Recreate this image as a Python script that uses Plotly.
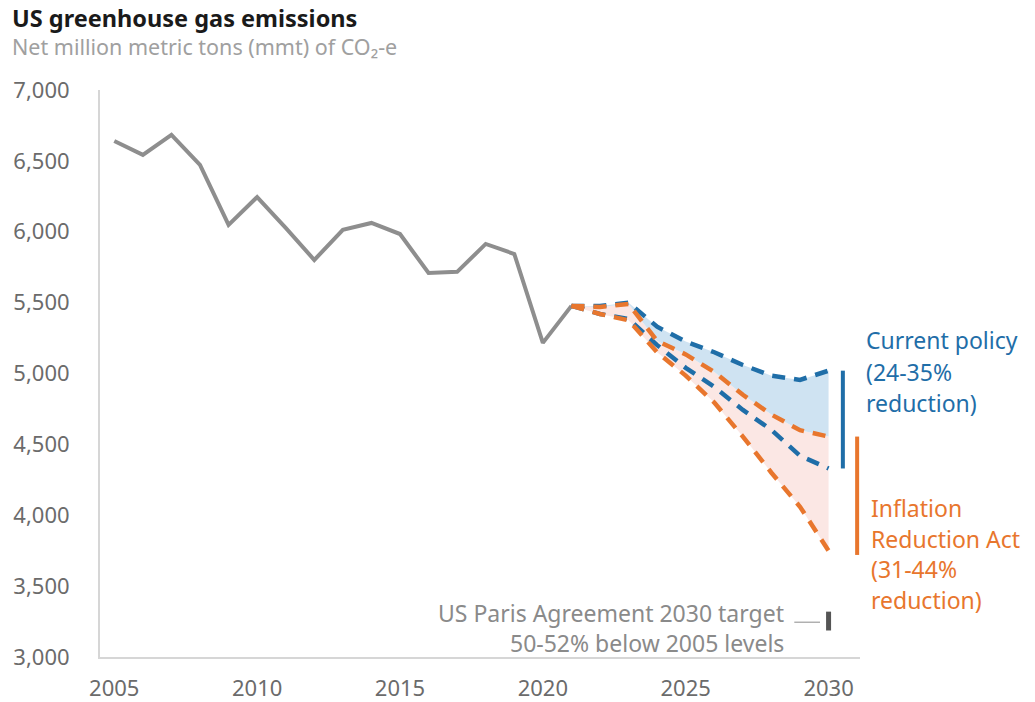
import plotly.graph_objects as go

# Historical emissions (mmt CO2-e)
hist_years = list(range(2005, 2022))
hist_values = [6640, 6542, 6683, 6471, 6048, 6245, 6027, 5801, 6013, 6062,
               5984, 5709, 5717, 5914, 5843, 5216, 5477]

# Projections
proj_years = list(range(2021, 2031))
cp_high = [5477, 5477, 5500, 5330, 5225, 5150, 5060, 4985, 4955, 5020]
cp_low = [5477, 5420, 5385, 5200, 5040, 4905, 4743, 4602, 4420, 4330]
ira_high = [5477, 5470, 5490, 5230, 5135, 5010, 4850, 4710, 4600, 4555]
ira_low = [5477, 5420, 5375, 5150, 4985, 4795, 4555, 4300, 4060, 3750]

# Ranges at 2030
cp_range = [5020, 4330]
ira_range = [4555, 3720]
paris_range = [3320, 3187]

y_ticks = [3000, 3500, 4000, 4500, 5000, 5500, 6000, 6500, 7000]
x_ticks = [2005, 2010, 2015, 2020, 2025, 2030]

BLUE = "#1f6ea8"
ORANGE = "#e8762d"
GRAY = "#8e8e8e"
FONT = "Noto Sans"

# plot-area geometry in pixels (for paper-referenced text)
L, R, T, B = 100, 860, 90, 657
W, H = 1035, 702


def px(xp):
    return (xp - L) / (R - L)


def py(yp):
    return (B - yp) / (B - T)


fig = go.Figure()

# fills
fig.add_trace(go.Scatter(x=proj_years, y=ira_high, mode="lines",
                         line=dict(width=0), hoverinfo="skip", showlegend=False))
fig.add_trace(go.Scatter(x=proj_years, y=ira_low, mode="lines", fill="tonexty",
                         fillcolor="#fbe7e4", line=dict(width=0),
                         hoverinfo="skip", showlegend=False))
fig.add_trace(go.Scatter(x=proj_years, y=ira_high, mode="lines",
                         line=dict(width=0), hoverinfo="skip", showlegend=False))
fig.add_trace(go.Scatter(x=proj_years, y=cp_high, mode="lines", fill="tonexty",
                         fillcolor="#cfe3f2", line=dict(width=0),
                         hoverinfo="skip", showlegend=False))

# historical
fig.add_trace(go.Scatter(x=hist_years, y=hist_values, mode="lines",
                         line=dict(color=GRAY, width=4), showlegend=False))

# dashed projections
for series, color in [(cp_high, BLUE), (cp_low, BLUE), (ira_high, ORANGE), (ira_low, ORANGE)]:
    fig.add_trace(go.Scatter(x=proj_years, y=series, mode="lines",
                             line=dict(color=color, width=4.5, dash="13px,9px"),
                             showlegend=False))

# range bars
fig.add_shape(type="line", x0=2030.5, x1=2030.5, y0=cp_range[0], y1=cp_range[1],
              line=dict(color=BLUE, width=4))
fig.add_shape(type="line", x0=2031.0, x1=2031.0, y0=ira_range[0], y1=ira_range[1],
              line=dict(color=ORANGE, width=4))
fig.add_shape(type="line", x0=2030.0, x1=2030.0, y0=paris_range[0], y1=paris_range[1],
              line=dict(color="#555555", width=5))
fig.add_shape(type="line", x0=2028.8, x1=2029.7, y0=3245, y1=3245,
              line=dict(color="#b0b0b0", width=1.5))


def add_lines(lines, x_px, y_px_first, step_px, color, xanchor, size=23):
    for i, t in enumerate(lines):
        fig.add_annotation(x=px(x_px), y=py(y_px_first + i * step_px), xref="paper", yref="paper",
                           text=t, showarrow=False, xanchor=xanchor, yanchor="middle",
                           font=dict(family=FONT, size=size, color=color))


add_lines(["Current policy", "(24-35%", "reduction)"], 864, 340, 31.5, BLUE, "left")
add_lines(["Inflation", "Reduction Act", "(31-44%", "reduction)"], 869, 508, 30.7, ORANGE, "left")
add_lines(["US Paris Agreement 2030 target", "50-52% below 2005 levels"], 786, 613, 30,
          "#8a8a8a", "right", size=23)

# title and subtitle
fig.add_annotation(x=px(10), y=py(18), xref="paper", yref="paper",
                   text="<b>US greenhouse gas emissions</b>",
                   showarrow=False, xanchor="left", yanchor="middle",
                   font=dict(family=FONT, size=23.5, color="#1a1a1a"))
fig.add_annotation(x=px(10), y=py(47), xref="paper", yref="paper",
                   text="Net million metric tons (mmt) of CO₂-e",
                   showarrow=False, xanchor="left", yanchor="middle",
                   font=dict(family=FONT, size=21.5, color="#a0a0a0"))

fig.update_layout(
    width=W, height=H,
    margin=dict(l=L, r=W - R, t=T, b=H - B),
    paper_bgcolor="white", plot_bgcolor="white",
    font=dict(family=FONT, size=21, color="#6b6b6b"),
    xaxis=dict(range=[2004.5, 2031.1], tickvals=x_ticks, ticktext=[str(v) for v in x_ticks],
               showgrid=False, zeroline=False, showline=True, linecolor="#d6d6d6", linewidth=2,
               ticks="", ticklabelstandoff=11, automargin=False,
               tickfont=dict(size=22, color="#6b6b6b")),
    yaxis=dict(range=[3000, 7000], tickvals=y_ticks, ticktext=[f"{v:,}" for v in y_ticks],
               showgrid=False, zeroline=False, showline=True, linecolor="#d6d6d6", linewidth=2,
               ticks="", ticklabelstandoff=24, automargin=False,
               tickfont=dict(size=22, color="#6b6b6b")),
)

fig.write_html("out.html")
